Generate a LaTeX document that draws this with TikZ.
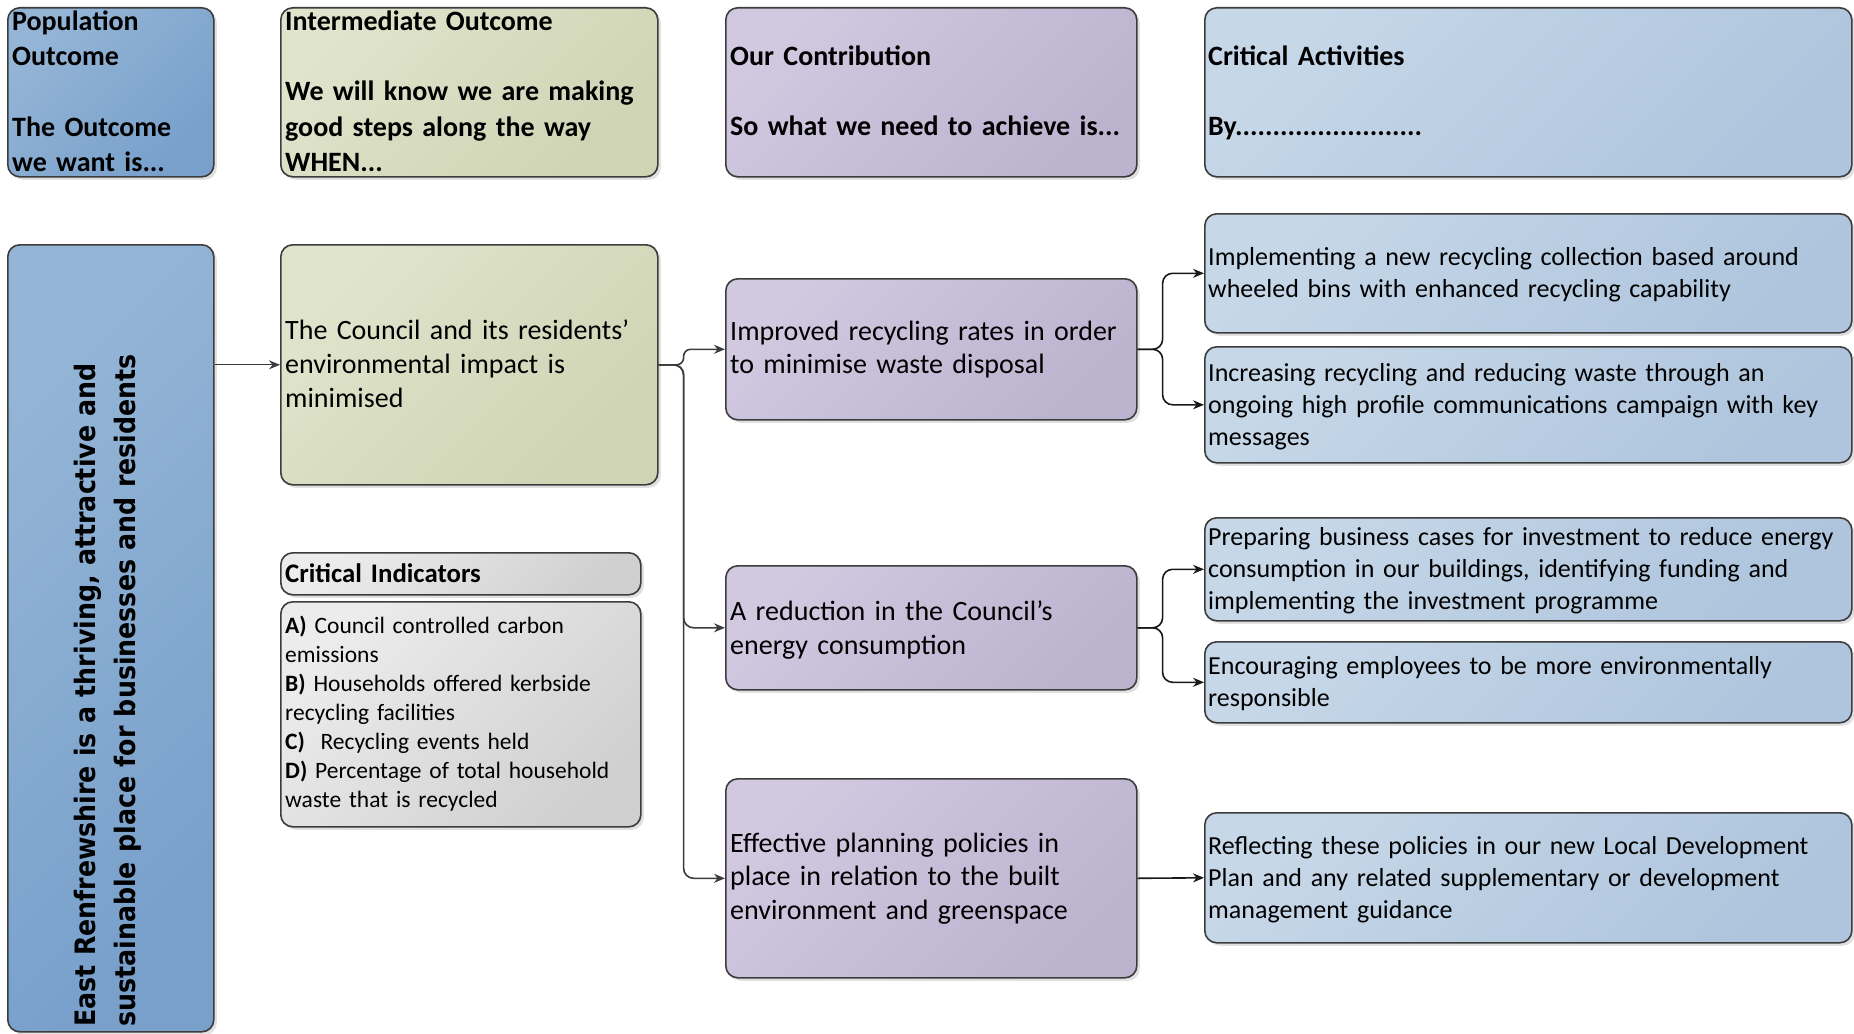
\documentclass[tikz,border=0pt]{standalone}
\usepackage{fontspec}
\setmainfont{Carlito}
\IfFontExistsTF{DejaVu Sans Condensed}{\newfontfamily\vfont{DejaVu Sans Condensed}}{\newfontfamily\vfont[FakeStretch=0.88]{DejaVu Sans}}
\usetikzlibrary{arrows.meta,shadows}
\definecolor{popA}{RGB}{148,181,214}
\definecolor{popB}{RGB}{120,160,203}
\definecolor{intA}{RGB}{224,228,204}
\definecolor{intB}{RGB}{206,212,180}
\definecolor{purA}{RGB}{208,201,224}
\definecolor{purB}{RGB}{188,179,207}
\definecolor{actA}{RGB}{198,215,232}
\definecolor{actB}{RGB}{174,197,221}
\definecolor{grA}{RGB}{236,236,236}
\definecolor{grB}{RGB}{208,208,208}
\definecolor{edgec}{RGB}{60,60,60}
\tikzset{
  box/.style={draw=edgec, line width=1.6pt, rounded corners=12pt, inner sep=0pt, anchor=north west,
    drop shadow={shadow xshift=3pt, shadow yshift=-3pt, fill=black, opacity=0.12}},
  shd/.style n args={2}{top color=#1, bottom color=#2, shading angle=45},
  popbox/.style={box, shd={popA}{popB}},
  intbox/.style={box, shd={intA}{intB}},
  purbox/.style={box, shd={purA}{purB}},
  actbox/.style={box, shd={actA}{actB}},
  grbox/.style={box, shd={grA}{grB}},
  txt/.style={inner sep=0pt, anchor=base west, text width=680pt, align=left},
  hdr/.style={txt, font=\bfseries\fontsize{28}{35}\selectfont},
  big/.style={txt, font=\fontsize{28}{34}\selectfont},
  mid/.style={txt, font=\fontsize{26}{32}\selectfont},
  sml/.style={txt, font=\fontsize{23.5}{29}\selectfont},
  conn/.style={draw=edgec, line width=1.6pt, -{Stealth[length=11pt,width=9pt]}},
  conn2/.style={draw=black!90, line width=1.6pt, -{Stealth[length=11pt,width=9pt]}}
}
\begin{document}
\begin{tikzpicture}[x=1pt,y=-1pt]
\useasboundingbox[fill=white] (0,0) rectangle (1854,1033);
% header row
\node[popbox, minimum width=206pt, minimum height=169pt] (pop) at (7,7) {};
\node[intbox, minimum width=377pt, minimum height=169pt] (int) at (280,7) {};
\node[purbox, minimum width=411pt, minimum height=169pt] (our) at (725,7) {};
\node[actbox, minimum width=647pt, minimum height=169pt] (act) at (1204,7) {};
\node[hdr] (popt) at (12,31) {Population\\Outcome\\~\\The Outcome\\we want is...};
\node[hdr] (intt) at (285,31) {Intermediate Outcome\\~\\We will know we are making\\good steps along the way\\WHEN...};
\node[hdr] (ourt) at (730,66) {Our Contribution\\~\\So what we need to achieve is...};
\node[hdr] (actt) at (1208,66) {Critical Activities\\~\\By.........................};
% body
\node[popbox, minimum width=206pt, minimum height=787pt] (er) at (7,244) {};
\node[rotate=90, anchor=base west, inner sep=0pt, text width=700pt, align=left,
  font=\vfont\bfseries\fontsize{28.1}{40}\selectfont] (ert) at (95,1027)
  {East Renfrewshire is a thriving, attractive and\\sustainable place for businesses and residents};
\node[intbox, minimum width=377pt, minimum height=240pt] (council) at (280,244) {};
\node[big] (councilt) at (285,339) {The Council and its residents’\\environmental impact is\\minimised};
\node[grbox, minimum width=360pt, minimum height=42pt] (cih) at (280,552) {};
\node[txt, font=\bfseries\fontsize{26.8}{32}\selectfont] (ciht) at (285,582) {Critical Indicators};
\node[grbox, minimum width=360pt, minimum height=225pt] (cib) at (280,601) {};
\node[sml] (cibt) at (285,633) {\textbf{A)} Council controlled carbon\\emissions\\\textbf{B)} Households offered kerbside\\recycling facilities\\\textbf{C)}\ \ Recycling events held\\\textbf{D)} Percentage of total household\\waste that is recycled};
\node[purbox, minimum width=411pt, minimum height=141pt] (imp) at (725,278) {};
\node[big, font=\fontsize{28}{33}\selectfont] (impt) at (730,340) {Improved recycling rates in order\\to minimise waste disposal};
\node[purbox, minimum width=411pt, minimum height=124pt] (red) at (725,565) {};
\node[big] (redt) at (730,620) {A reduction in the Council’s\\energy consumption};
\node[purbox, minimum width=411pt, minimum height=199pt] (eff) at (725,778) {};
\node[big, font=\fontsize{28}{33.5}\selectfont] (efft) at (730,852) {Effective planning policies in\\place in relation to the built\\environment and greenspace};
\node[actbox, minimum width=647pt, minimum height=119pt] (a1) at (1204,213) {};
\node[mid] (a1t) at (1208,265.5) {Implementing a new recycling collection based around\\wheeled bins with enhanced recycling capability};
\node[actbox, minimum width=647pt, minimum height=116pt] (a2) at (1204,346) {};
\node[mid] (a2t) at (1208,381) {Increasing recycling and reducing waste through an\\ongoing high profile communications campaign with key\\messages};
\node[actbox, minimum width=647pt, minimum height=103pt] (a3) at (1204,517) {};
\node[mid] (a3t) at (1208,545) {Preparing business cases for investment to reduce energy\\consumption in our buildings, identifying funding and\\implementing the investment programme};
\node[actbox, minimum width=647pt, minimum height=81pt] (a4) at (1204,641) {};
\node[mid] (a4t) at (1208,674) {Encouraging employees to be more environmentally\\responsible};
\node[actbox, minimum width=647pt, minimum height=130pt] (a5) at (1204,812) {};
\node[mid] (a5t) at (1208,854) {Reflecting these policies in our new Local Development\\Plan and any related supplementary or development\\management guidance};
% connectors
\draw[conn, line width=1.3pt] (er.east |- council.west) -- (council.west);
\draw[conn, rounded corners=7pt] (council.east) -- ++(25,0) |- (imp.west);
\draw[conn, rounded corners=10pt] (council.east) -- ++(25,0) |- (red.west);
\draw[conn, rounded corners=10pt] (council.east) -- ++(25,0) |- (eff.west);
\draw[conn2, rounded corners=10pt] (imp.east) -- ++(25,0) |- (a1.west);
\draw[conn2, rounded corners=10pt] (imp.east) -- ++(25,0) |- (a2.west);
\draw[conn2, rounded corners=10pt] (red.east) -- ++(25,0) |- (a3.west);
\draw[conn2, rounded corners=10pt] (red.east) -- ++(25,0) |- (a4.west);
\draw[conn2] (eff.east) -- (a5.west);
\end{tikzpicture}
\end{document}
